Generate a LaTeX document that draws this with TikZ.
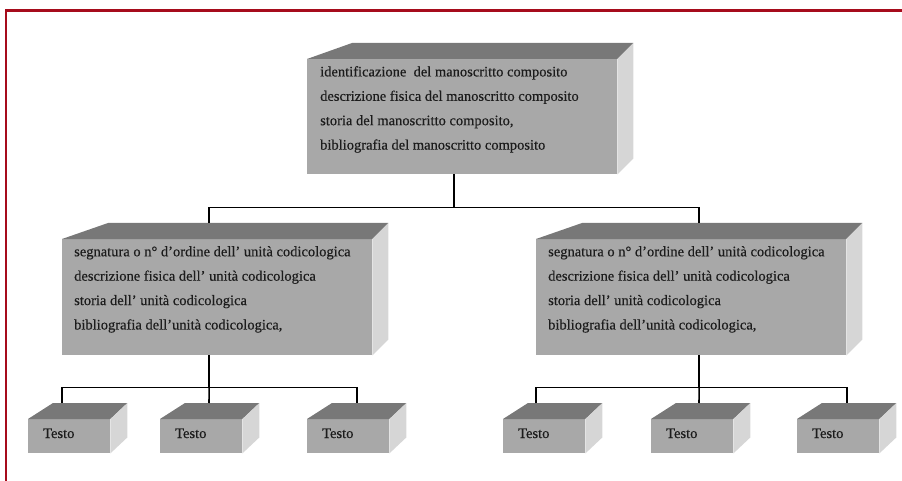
\documentclass[tikz,border=0pt]{standalone}
\usepackage{fontspec}
\setmainfont{Liberation Serif}
\newfontfamily\boxfont{Liberation Serif}[FakeBold=0.35]
\usepackage{xcolor}
\usetikzlibrary{calc}

\definecolor{framered}{RGB}{166,12,28}
\definecolor{facegray}{RGB}{168,168,168}
\definecolor{lidgray}{RGB}{120,120,120}
\definecolor{flankgray}{RGB}{214,214,214}
\definecolor{inkgray}{RGB}{28,28,28}

\tikzset{
    frontface/.style={draw=none, fill=facegray, inner sep=0pt, anchor=north west},
    lidface/.style={fill=lidgray},
    flankface/.style={fill=flankgray},
    boxtext/.style={inner sep=0pt, align=left, text=inkgray,
        font=\boxfont\fontsize{14.5}{24.4}\selectfont},
    link/.style={draw=black, line width=1.6pt},
}

% front rectangle plus lid and flank: name, x, y, width, height, left depth, right depth
\newcommand\solidbox[7]{%
    \node[frontface, minimum width=#4pt, minimum height=#5pt] (#1) at (#2,#3) {};
    \fill[lidface] (#1.north west) -- ++(#6,-16) -- ($(#1.north east)+(#7,-16)$) -- (#1.north east) -- cycle;
    \fill[flankface] (#1.north east) -- ++(#7,-16) -- ($(#1.south east)+(#7,-16)$) -- (#1.south east) -- cycle;
}

\begin{document}
\begin{tikzpicture}[x=1pt,y=-1pt]
    \useasboundingbox (0,0) rectangle (902,481);

    % frame
    \draw[framered, line width=2.4pt] (6,481) -- (6,10.5) -- (902,10.5);

    % boxes
    \solidbox{comp}{307}{59}{310}{115}{45}{16}
    \solidbox{unitL}{62}{239}{310}{116}{46}{16}
    \solidbox{unitR}{536}{239}{310}{116}{46}{16}

    \solidbox{textA}{28}{419}{82}{34}{25}{17}
    \solidbox{textB}{160}{419}{82}{34}{25}{17}
    \solidbox{textC}{307}{419}{82}{34}{25}{17}
    \solidbox{textD}{503}{419}{82}{34}{25}{17}
    \solidbox{textE}{651}{419}{82}{34}{25}{17}
    \solidbox{textF}{797}{419}{82}{34}{25}{17}

    % texts
    \node[boxtext, anchor=north west] (compLbl) at ($(comp.north west)+(13,7)$)
        {identificazione\ \ del manoscritto composito\\
         descrizione fisica del manoscritto composito\\
         storia del manoscritto composito,\\
         bibliografia del manoscritto composito};
    \node[boxtext, anchor=north west] (unitLLbl) at ($(unitL.north west)+(12,7)$)
        {segnatura o n° d’ordine dell’ unità codicologica\\
         descrizione fisica dell’ unità codicologica\\
         storia dell’ unità codicologica\\
         bibliografia dell’unità codicologica,};
    \node[boxtext, anchor=north west] (unitRLbl) at ($(unitR.north west)+(12,7)$)
        {segnatura o n° d’ordine dell’ unità codicologica\\
         descrizione fisica dell’ unità codicologica\\
         storia dell’ unità codicologica\\
         bibliografia dell’unità codicologica,};

    \foreach \t in {textA,textB,textC,textD,textE,textF}
        \node[boxtext, anchor=base west] (\t Lbl) at ($(\t.north west)+(15,19)$) {Testo};

    % connectors
    \draw[link] ([xshift=-8pt]comp.south) -- ++(0,33) coordinate (hubTop);
    \draw[link] ([xshift=147pt,yshift=16pt]unitL.north west) |- (hubTop)
        -| ([xshift=163pt,yshift=16pt]unitR.north west);

    \draw[link] ([xshift=-8pt]unitL.south) -- ++(0,32) coordinate (hubL);
    \draw[link] ([xshift=34pt,yshift=16pt]textA.north west) |- (hubL)
        -| ([xshift=50pt,yshift=16pt]textC.north west);
    \draw[link] (hubL) -- ([xshift=49pt,yshift=16pt]textB.north west);

    \draw[link] ([xshift=8pt]unitR.south) -- ++(0,32) coordinate (hubR);
    \draw[link] ([xshift=33pt,yshift=16pt]textD.north west) |- (hubR)
        -| ([xshift=50pt,yshift=16pt]textF.north west);
    \draw[link] (hubR) -- ([xshift=48pt,yshift=16pt]textE.north west);
\end{tikzpicture}
\end{document}
